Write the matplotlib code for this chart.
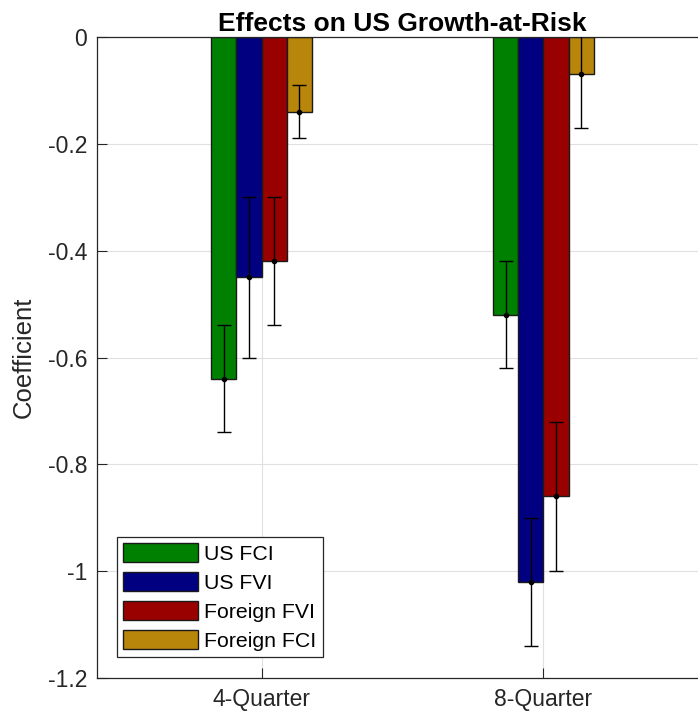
import numpy as np
import matplotlib
matplotlib.use("Agg")
import matplotlib.pyplot as plt

plt.rcParams['font.family'] = ['Liberation Sans', 'DejaVu Sans']

horizons = ["4-Quarter", "8-Quarter"]
series = ["US FCI", "US FVI", "Foreign FVI", "Foreign FCI"]
colors = ["#008000", "#000080", "#990000", "#B8860B"]

# coefficient estimates, one row per series, one column per horizon
us_fci = [-0.64, -0.52]
us_fvi = [-0.45, -1.02]
foreign_fvi = [-0.42, -0.86]
foreign_fci = [-0.14, -0.07]

# half-widths of the confidence bands
us_fci_err = [0.10, 0.10]
us_fvi_err = [0.15, 0.12]
foreign_fvi_err = [0.12, 0.14]
foreign_fci_err = [0.05, 0.10]

yticks = [0, -0.2, -0.4, -0.6, -0.8, -1.0, -1.2]
ytick_labels = ["0", "-0.2", "-0.4", "-0.6", "-0.8", "-1", "-1.2"]

values = [us_fci, us_fvi, foreign_fvi, foreign_fci]
errors = [us_fci_err, us_fvi_err, foreign_fvi_err, foreign_fci_err]

W, H = 698, 719
fig = plt.figure(figsize=(W / 100, H / 100), dpi=100)
ax = fig.add_axes([97 / W, 1 - 678 / H, 611 / W, 641 / H])

dark = "#262626"
x = np.arange(1, len(horizons) + 1)
width = 0.0895
offsets = np.array([-1.5, -0.5, 0.5, 1.5]) * width

for vals, errs, col, name, off in zip(values, errors, colors, series, offsets):
    ax.bar(x + off, vals, width, color=col, edgecolor="#1a1a1a", linewidth=1.0,
           label=name, zorder=2)
    ax.errorbar(x + off, vals, yerr=errs, fmt="o", color="black", ms=3.0,
                elinewidth=1.0, capsize=5.3, capthick=1.0, zorder=3)

ax.set_xlim(0.416, 2.584)
ax.set_ylim(-1.2, 0)
ax.set_xticks(x)
ax.set_xticklabels(horizons)
ax.set_yticks(yticks)
ax.set_yticklabels(ytick_labels)

ax.grid(True, color="#e0e0e0", linewidth=0.8, zorder=0)
ax.set_axisbelow(True)
ax.tick_params(direction="in", length=7, width=0.8, colors=dark,
               labelsize=16.5, pad=7)
for side in ax.spines.values():
    side.set_color(dark)
    side.set_linewidth(0.9)

ax.set_title("Effects on US Growth-at-Risk", fontsize=19, fontweight="bold",
             color="black", pad=4)
ax.set_ylabel("Coefficient", fontsize=18.5, color=dark, labelpad=9)

leg = ax.legend(loc="lower left", bbox_to_anchor=(117 / W, 1 - 657 / H),
                bbox_transform=fig.transFigure, fontsize=15.3,
                handlelength=3.5, handleheight=1.0, handletextpad=0.3,
                labelspacing=0.38, borderpad=0.3, borderaxespad=0,
                fancybox=False, framealpha=1)
leg.get_frame().set_edgecolor(dark)
leg.get_frame().set_linewidth(0.9)
for t in leg.get_texts():
    t.set_color("black")

fig.savefig("out.png", dpi=100)
